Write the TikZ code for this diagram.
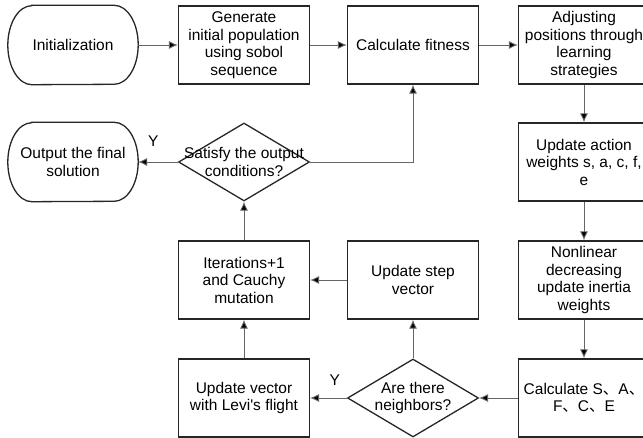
\documentclass[tikz,border=0pt]{standalone}
\usepackage{fontspec}
\setmainfont{Liberation Sans}
\newfontfamily\cjk{Noto Sans CJK SC}
\usepackage{tikz}
\usetikzlibrary{shapes.geometric,arrows.meta}

\tikzset{
  txt/.style={align=center,font=\fontsize{15.5}{17.5}\selectfont},
  box/.style={txt,draw=black!85,line width=1.3pt,minimum width=131pt,minimum height=78pt,inner sep=2pt},
  term/.style={txt,minimum width=130pt,minimum height=79pt,inner sep=2pt},
  decision/.style={diamond,draw=black!85,line width=1.3pt,minimum width=131pt,minimum height=78pt,inner sep=0pt},
  link/.style={draw=black!60,line width=0.9pt,-{Latex[length=9pt,width=8pt,fill=black]}},
  frame/.style={draw=black!85,line width=1.3pt}
}

\begin{document}
\begin{tikzpicture}[x=1pt,y=-1pt]
  \path[use as bounding box,clip] (0,0) rectangle (643,438);

  % top row
  \node[term] (init) at (73,45) {Initialization};
  \node[box] (gen) at (244,45) {Generate\\initial population\\using sobol\\sequence};
  \node[box] (fit) at (413,45) {Calculate fitness};
  \node[box] (adj) at (584,45) {Adjusting\\positions through\\learning\\strategies};

  % right column
  \node[box] (act) at (584,162) {Update action\\weights s, a, c, f,\\e};
  \node[box] (nonlin) at (584,280) {Nonlinear\\decreasing\\update inertia\\weights};
  \node[box] (calc) at (584,398) {Calculate S{\cjk 、}A{\cjk 、}\\F{\cjk 、}C{\cjk 、}E};

  % middle and left
  \node[decision] (nbr) at (413,398) {};
  \node[txt] (nbr-text) at (nbr) {Are there\\neighbors?};
  \node[box] (step) at (413,280) {Update step\\vector};
  \node[box] (levy) at (244,398) {Update vector\\with Levi\textquotesingle s flight};
  \node[box] (iter) at (244,280) {Iterations+1\\and Cauchy\\mutation};
  \node[decision] (sat) at (244,162) {};
  \node[txt] (sat-text) at (sat) {Satisfy the output\\conditions?};
  \node[term] (output) at (73,162) {Output the final\\solution};

  % terminal outlines
  \foreach \n in {init,output} {
    \draw[frame] ([xshift=24pt]\n.north west) -- ([xshift=-24pt]\n.north east)
      arc[start angle=90,end angle=-90,x radius=24pt,y radius=39.5pt]
      -- ([xshift=24pt]\n.south west)
      arc[start angle=270,end angle=90,x radius=24pt,y radius=39.5pt] -- cycle;
  }

  % connectors
  \draw[link] (init) -- (gen);
  \draw[link] (gen) -- (fit);
  \draw[link] (fit) -- (adj);
  \draw[link] (adj) -- (act);
  \draw[link] (act) -- (nonlin);
  \draw[link] (nonlin) -- (calc);
  \draw[link] (calc) -- (nbr);
  \draw[link] (nbr) -- node[txt,pos=0.33,above=9pt] (y2) {Y} (levy);
  \draw[link] (nbr) -- (step);
  \draw[link] (step) -- (iter);
  \draw[link] (levy) -- (iter);
  \draw[link] (iter) -- (sat);
  \draw[link] (sat) -- node[txt,pos=0.62,above=12pt] (y1) {Y} (output);
  \draw[link] (sat.east) -| (fit);
\end{tikzpicture}
\end{document}
